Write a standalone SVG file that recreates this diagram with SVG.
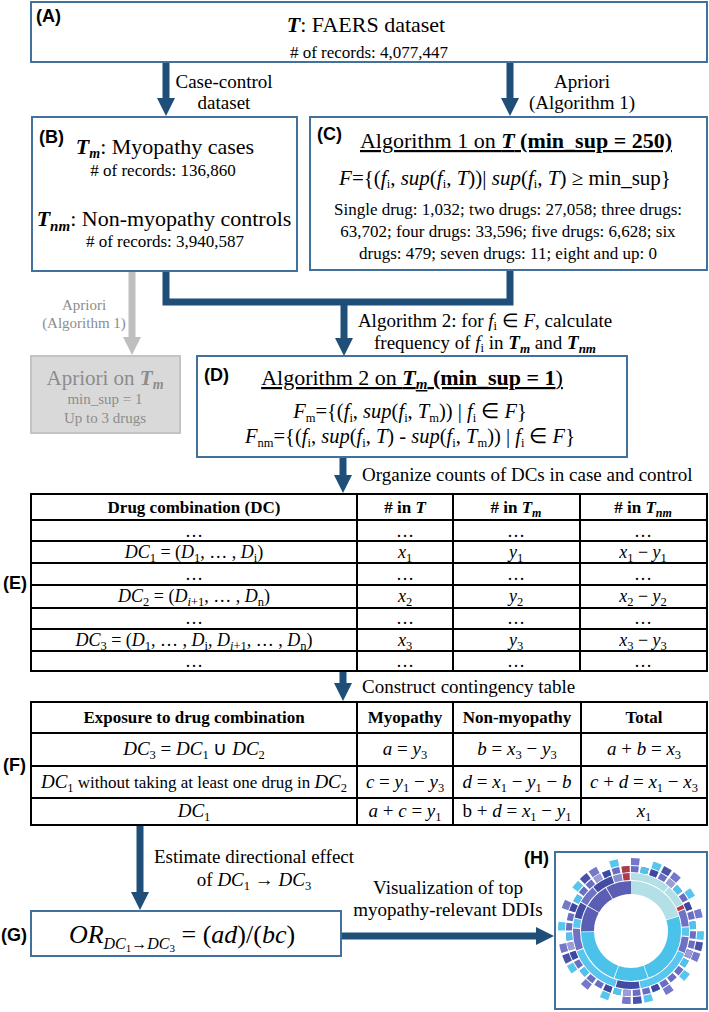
<svg xmlns="http://www.w3.org/2000/svg" width="709" height="1012" viewBox="0 0 709 1012">
<defs>
<style>
.t{font-family:"Liberation Serif","Times New Roman",serif;fill:#000}
.lab{font-family:"Liberation Sans",Arial,sans-serif;font-weight:bold;font-size:18px;fill:#000}
.i{font-style:italic}
.b{font-weight:bold}
.bi{font-weight:bold;font-style:italic}
.sb{font-size:12.5px;font-style:normal}
.mid{text-anchor:middle}
.box{fill:#fff;stroke:#41719c;stroke-width:2}
.gbox{fill:#d9d9d9;stroke:#c4c4c4;stroke-width:2}
.grid{stroke:#000;stroke-width:2;fill:none}
.c{fill:none;stroke:#1f4e79;stroke-width:7}
.g{fill:none;stroke:#bfbfbf;stroke-width:7}
.gt{fill:#8c8c8c}
</style>
<marker id="ah" markerUnits="userSpaceOnUse" markerWidth="18" markerHeight="18" viewBox="0 0 18 18" refX="1" refY="9" orient="auto"><path d="M0,0 L18,9 L0,18 Z" fill="#1f4e79"/></marker>
<marker id="ahg" markerUnits="userSpaceOnUse" markerWidth="18" markerHeight="18" viewBox="0 0 18 18" refX="1" refY="9" orient="auto"><path d="M0,0 L18,9 L0,18 Z" fill="#bfbfbf"/></marker>
</defs>
<rect width="709" height="1012" fill="#fff"/>

<g id="connectors">
<path class="c" d="M166,62 V99" marker-end="url(#ah)"/>
<path class="c" d="M510,62 V99" marker-end="url(#ah)"/>
<path class="c" d="M166,270 V302 H510 V270"/>
<path class="c" d="M344,302 V339" marker-end="url(#ah)"/>
<path class="g" d="M132,271 V338" marker-end="url(#ahg)"/>
<path class="c" d="M343,457 V476" marker-end="url(#ah)"/>
<path class="c" d="M343,671 V684" marker-end="url(#ah)"/>
<path class="c" d="M140,825 V893" marker-end="url(#ah)"/>
<path class="c" d="M341,936 H537" marker-end="url(#ah)"/>
<text class="t mid" x="224" y="88" font-size="19">Case-control</text>
<text class="t mid" x="224" y="109" font-size="19">dataset</text>
<text class="t mid" x="582" y="88" font-size="19">Apriori</text>
<text class="t mid" x="582" y="109" font-size="19">(Algorithm 1)</text>
<text class="t mid gt" x="84" y="310" font-size="15" fill="#999">Apriori</text>
<text class="t mid gt" x="84" y="328" font-size="15" fill="#999">(Algorithm 1)</text>
<text class="t mid" x="485" y="327" font-size="19">Algorithm 2: for <tspan class="i">f</tspan><tspan class="sb i" dy="3">i</tspan><tspan dy="-3"> ∈ </tspan><tspan class="i">F</tspan>, calculate</text>
<text class="t mid" x="485" y="349" font-size="19">frequency of <tspan class="i">f</tspan><tspan class="sb i" dy="3">i</tspan><tspan dy="-3"> in </tspan><tspan class="bi">T</tspan><tspan class="bi" font-size="13" dy="4">m</tspan><tspan dy="-4"> and </tspan><tspan class="bi">T</tspan><tspan class="bi" font-size="13" dy="4">nm</tspan></text>
<text class="t" x="362" y="481" font-size="19">Organize counts of DCs in case and control</text>
<text class="t" x="362" y="693" font-size="19">Construct contingency table</text>
<text class="t mid" x="254" y="863" font-size="19">Estimate directional effect</text>
<text class="t mid" x="254" y="886" font-size="19">of <tspan class="i">DC</tspan><tspan class="sb" dy="4">1</tspan><tspan dy="-4"> → </tspan><tspan class="i">DC</tspan><tspan class="sb" dy="4">3</tspan></text>
<text class="t mid" x="448" y="894" font-size="19">Visualization of top</text>
<text class="t mid" x="448" y="916" font-size="19">myopathy-relevant DDIs</text>
</g>

<g id="nodeA">
<rect class="box" x="31" y="2" width="676" height="60"/>
<text class="lab" x="36" y="22">(A)</text>
<text class="t mid" x="366" y="32" font-size="22"><tspan class="bi">T</tspan>: FAERS dataset</text>
<text class="t mid" x="369" y="58" font-size="17"># of records: 4,077,447</text>
</g>

<g id="nodeB">
<rect class="box" x="32" y="117" width="265" height="154"/>
<text class="lab" x="39" y="143">(B)</text>
<text class="t mid" x="165" y="154" font-size="22"><tspan class="bi">T</tspan><tspan class="bi" font-size="14" dy="4">m</tspan><tspan dy="-4">: Myopathy cases</tspan></text>
<text class="t mid" x="163" y="176" font-size="17"># of records: 136,860</text>
<text class="t mid" x="164" y="226" font-size="22"><tspan class="bi">T</tspan><tspan class="bi" font-size="15" dy="5">nm</tspan><tspan dy="-5">: Non-myopathy controls</tspan></text>
<text class="t mid" x="165" y="247" font-size="17"># of records: 3,940,587</text>
</g>

<g id="nodeC">
<rect class="box" x="310" y="117" width="397" height="153"/>
<text class="lab" x="317" y="140">(C)</text>
<text class="t mid" x="516" y="148" font-size="22" text-decoration="underline">Algorithm 1 on <tspan class="bi">T</tspan><tspan class="b"> (min_sup = 250)</tspan></text>
<text class="t mid" x="505" y="185" font-size="21"><tspan class="i">F</tspan>={(<tspan class="i">f</tspan><tspan class="sb i" dy="3">i</tspan><tspan dy="-3">, </tspan><tspan class="i">sup</tspan>(<tspan class="i">f</tspan><tspan class="sb i" dy="3">i</tspan><tspan dy="-3">, </tspan><tspan class="i">T</tspan>))| <tspan class="i">sup</tspan>(<tspan class="i">f</tspan><tspan class="sb i" dy="3">i</tspan><tspan dy="-3">, </tspan><tspan class="i">T</tspan>) ≥ min_sup}</text>
<text class="t mid" x="508" y="215" font-size="17">Single drug: 1,032; two drugs: 27,058; three drugs:</text>
<text class="t mid" x="508" y="237" font-size="17">63,702; four drugs: 33,596; five drugs: 6,628; six</text>
<text class="t mid" x="508" y="259" font-size="17">drugs: 479; seven drugs: 11; eight and up: 0</text>
</g>

<g id="nodeApriori">
<rect class="gbox" x="31" y="356" width="149" height="77"/>
<text class="t mid gt" x="105" y="385" font-size="21">Apriori on <tspan class="bi">T</tspan><tspan class="bi" font-size="14" dy="4">m</tspan></text>
<text class="t mid gt" x="105" y="404" font-size="15">min_sup = 1</text>
<text class="t mid gt" x="105" y="423" font-size="15">Up to 3 drugs</text>
</g>

<g id="nodeD">
<rect class="box" x="197" y="356" width="430" height="101"/>
<text class="lab" x="204" y="381">(D)</text>
<text class="t mid" x="412" y="385" font-size="22" text-decoration="underline">Algorithm 2 on <tspan class="bi">T</tspan><tspan class="bi" font-size="15" dy="4">m</tspan><tspan class="b" dy="-4"> (min_sup = 1</tspan>)</text>
<text class="t mid" x="410" y="418" font-size="20.5"><tspan class="i">F</tspan><tspan class="sb i" dy="4">m</tspan><tspan dy="-4">={(</tspan><tspan class="i">f</tspan><tspan class="sb i" dy="4">i</tspan><tspan dy="-4">, </tspan><tspan class="i">sup</tspan>(<tspan class="i">f</tspan><tspan class="sb i" dy="4">i</tspan><tspan dy="-4">, </tspan><tspan class="i">T</tspan><tspan class="sb i" dy="4">m</tspan><tspan dy="-4">)) | </tspan><tspan class="i">f</tspan><tspan class="sb i" dy="4">i</tspan><tspan dy="-4"> ∈ </tspan><tspan class="i">F</tspan>}</text>
<text class="t mid" x="410" y="443" font-size="20.5"><tspan class="i">F</tspan><tspan class="sb i" dy="4">nm</tspan><tspan dy="-4">={(</tspan><tspan class="i">f</tspan><tspan class="sb i" dy="4">i</tspan><tspan dy="-4">, </tspan><tspan class="i">sup</tspan>(<tspan class="i">f</tspan><tspan class="sb i" dy="4">i</tspan><tspan dy="-4">, </tspan><tspan class="i">T</tspan>) - <tspan class="i">sup</tspan>(<tspan class="i">f</tspan><tspan class="sb i" dy="4">i</tspan><tspan dy="-4">, </tspan><tspan class="i">T</tspan><tspan class="sb i" dy="4">m</tspan><tspan dy="-4">)) | </tspan><tspan class="i">f</tspan><tspan class="sb i" dy="4">i</tspan><tspan dy="-4"> ∈ </tspan><tspan class="i">F</tspan>}</text>
</g>

<g id="tableE">
<rect class="grid" x="31" y="494" width="676" height="177"/>
<path class="grid" d="M31,520 H707 M31,541 H707 M31,563 H707 M31,585 H707 M31,608 H707 M31,629 H707 M31,651 H707 M357,494 V671 M453,494 V671 M580,494 V671"/>
<text class="lab" x="3" y="589">(E)</text>
<g class="t b" font-size="17">
<text class="mid" x="194" y="513">Drug combination (DC)</text>
<text class="mid" x="405" y="513"># in <tspan class="bi">T</tspan></text>
<text class="mid" x="516" y="513"># in <tspan class="bi">T</tspan><tspan class="bi" font-size="12" dy="4">m</tspan></text>
<text class="mid" x="643" y="513"># in <tspan class="bi">T</tspan><tspan class="bi" font-size="12" dy="4">nm</tspan></text>
</g>
<g class="t" font-size="18">
<text class="mid" x="194" y="537">…</text><text class="mid" x="405" y="537">…</text><text class="mid" x="516" y="537">…</text><text class="mid" x="643" y="537">…</text>
<text class="mid" x="194" y="558"><tspan class="i">DC</tspan><tspan class="sb" dy="4">1</tspan><tspan dy="-4"> = (</tspan><tspan class="i">D</tspan><tspan class="sb" dy="4">1</tspan><tspan dy="-4">, … , </tspan><tspan class="i">D</tspan><tspan class="sb i" dy="4">i</tspan><tspan dy="-4">)</tspan></text>
<text class="mid" x="405" y="558"><tspan class="i">x</tspan><tspan class="sb" dy="4">1</tspan></text>
<text class="mid" x="516" y="558"><tspan class="i">y</tspan><tspan class="sb" dy="4">1</tspan></text>
<text class="mid" x="643" y="558"><tspan class="i">x</tspan><tspan class="sb" dy="4">1</tspan><tspan dy="-4"> − </tspan><tspan class="i">y</tspan><tspan class="sb" dy="4">1</tspan></text>
<text class="mid" x="194" y="580">…</text><text class="mid" x="405" y="580">…</text><text class="mid" x="516" y="580">…</text><text class="mid" x="643" y="580">…</text>
<text class="mid" x="194" y="602"><tspan class="i">DC</tspan><tspan class="sb" dy="4">2</tspan><tspan dy="-4"> = (</tspan><tspan class="i">D</tspan><tspan class="sb" dy="4"><tspan class="i">i</tspan>+1</tspan><tspan dy="-4">, … , </tspan><tspan class="i">D</tspan><tspan class="sb i" dy="4">n</tspan><tspan dy="-4">)</tspan></text>
<text class="mid" x="405" y="602"><tspan class="i">x</tspan><tspan class="sb" dy="4">2</tspan></text>
<text class="mid" x="516" y="602"><tspan class="i">y</tspan><tspan class="sb" dy="4">2</tspan></text>
<text class="mid" x="643" y="602"><tspan class="i">x</tspan><tspan class="sb" dy="4">2</tspan><tspan dy="-4"> − </tspan><tspan class="i">y</tspan><tspan class="sb" dy="4">2</tspan></text>
<text class="mid" x="194" y="624">…</text><text class="mid" x="405" y="624">…</text><text class="mid" x="516" y="624">…</text><text class="mid" x="643" y="624">…</text>
<text class="mid" x="194" y="646"><tspan class="i">DC</tspan><tspan class="sb" dy="4">3</tspan><tspan dy="-4"> = (</tspan><tspan class="i">D</tspan><tspan class="sb" dy="4">1</tspan><tspan dy="-4">, … , </tspan><tspan class="i">D</tspan><tspan class="sb i" dy="4">i</tspan><tspan dy="-4">, </tspan><tspan class="i">D</tspan><tspan class="sb" dy="4"><tspan class="i">i</tspan>+1</tspan><tspan dy="-4">, … , </tspan><tspan class="i">D</tspan><tspan class="sb i" dy="4">n</tspan><tspan dy="-4">)</tspan></text>
<text class="mid" x="405" y="646"><tspan class="i">x</tspan><tspan class="sb" dy="4">3</tspan></text>
<text class="mid" x="516" y="646"><tspan class="i">y</tspan><tspan class="sb" dy="4">3</tspan></text>
<text class="mid" x="643" y="646"><tspan class="i">x</tspan><tspan class="sb" dy="4">3</tspan><tspan dy="-4"> − </tspan><tspan class="i">y</tspan><tspan class="sb" dy="4">3</tspan></text>
<text class="mid" x="194" y="667">…</text><text class="mid" x="405" y="667">…</text><text class="mid" x="516" y="667">…</text><text class="mid" x="643" y="667">…</text>
</g>
</g>

<g id="tableF">
<rect class="grid" x="31" y="702" width="676" height="123"/>
<path class="grid" d="M31,733 H707 M31,766 H707 M31,798 H707 M357,702 V825 M453,702 V825 M581,702 V825"/>
<text class="lab" x="3" y="771">(F)</text>
<g class="t b" font-size="17">
<text class="mid" x="194" y="723">Exposure to drug combination</text>
<text class="mid" x="405" y="723">Myopathy</text>
<text class="mid" x="517" y="723">Non-myopathy</text>
<text class="mid" x="644" y="723">Total</text>
</g>
<g class="t" font-size="19">
<text class="mid" x="194" y="755"><tspan class="i">DC</tspan><tspan class="sb" dy="4">3</tspan><tspan dy="-4"> = </tspan><tspan class="i">DC</tspan><tspan class="sb" dy="4">1</tspan><tspan dy="-4"> ∪ </tspan><tspan class="i">DC</tspan><tspan class="sb" dy="4">2</tspan></text>
<text class="mid" x="405" y="755"><tspan class="i">a</tspan> = <tspan class="i">y</tspan><tspan class="sb" dy="4">3</tspan></text>
<text class="mid" x="517" y="755"><tspan class="i">b</tspan> = <tspan class="i">x</tspan><tspan class="sb" dy="4">3</tspan><tspan dy="-4"> − </tspan><tspan class="i">y</tspan><tspan class="sb" dy="4">3</tspan></text>
<text class="mid" x="644" y="755"><tspan class="i">a</tspan> + <tspan class="i">b</tspan> = <tspan class="i">x</tspan><tspan class="sb" dy="4">3</tspan></text>
<text class="mid" x="194" y="788"><tspan class="i">DC</tspan><tspan class="sb" dy="4">1</tspan><tspan dy="-4" font-size="17"> without taking at least one drug in </tspan><tspan class="i">DC</tspan><tspan class="sb" dy="4">2</tspan></text>
<text class="mid" x="405" y="788"><tspan class="i">c</tspan> = <tspan class="i">y</tspan><tspan class="sb" dy="4">1</tspan><tspan dy="-4"> − </tspan><tspan class="i">y</tspan><tspan class="sb" dy="4">3</tspan></text>
<text class="mid" x="517" y="788"><tspan class="i">d</tspan> = <tspan class="i">x</tspan><tspan class="sb" dy="4">1</tspan><tspan dy="-4"> − </tspan><tspan class="i">y</tspan><tspan class="sb" dy="4">1</tspan><tspan dy="-4"> − </tspan><tspan class="i">b</tspan></text>
<text class="mid" x="644" y="788"><tspan class="i">c</tspan> + <tspan class="i">d</tspan> = <tspan class="i">x</tspan><tspan class="sb" dy="4">1</tspan><tspan dy="-4"> − </tspan><tspan class="i">x</tspan><tspan class="sb" dy="4">3</tspan></text>
<text class="mid" x="194" y="817"><tspan class="i">DC</tspan><tspan class="sb" dy="4">1</tspan></text>
<text class="mid" x="405" y="817"><tspan class="i">a</tspan> + <tspan class="i">c</tspan> = <tspan class="i">y</tspan><tspan class="sb" dy="4">1</tspan></text>
<text class="mid" x="517" y="817">b + <tspan class="i">d</tspan> = <tspan class="i">x</tspan><tspan class="sb" dy="4">1</tspan><tspan dy="-4"> − </tspan><tspan class="i">y</tspan><tspan class="sb" dy="4">1</tspan></text>
<text class="mid" x="644" y="817"><tspan class="i">x</tspan><tspan class="sb" dy="4">1</tspan></text>
</g>
</g>

<g id="nodeG">
<rect class="box" x="31" y="911" width="310" height="45"/>
<text class="lab" x="1" y="941">(G)</text>
<text class="t mid" x="182" y="943" font-size="26"><tspan class="i">OR</tspan><tspan font-size="16" dy="6"><tspan class="i">DC</tspan><tspan font-size="11" dy="3">1</tspan><tspan dy="-3">→</tspan><tspan class="i">DC</tspan><tspan font-size="11" dy="3">3</tspan></tspan><tspan dy="-9"> = (</tspan><tspan class="i">ad</tspan>)/(<tspan class="i">bc</tspan>)</text>
</g>

<g id="nodeH">
<rect class="box" x="555" y="852" width="152" height="157"/>
<text class="lab" x="524" y="864">(H)</text>
<g transform="translate(631 931) rotate(-90)" fill="none">
<g transform="scale(0.7592)" stroke-width="17.12">
<circle r="57.2958" stroke="#b3dfe7" stroke-dasharray="72 288"/>
<circle r="57.2958" stroke="#4ac2ea" stroke-dasharray="0 73 86 1 39 1 68 92"/>
<circle r="57.2958" stroke="#5a5fb3" stroke-dasharray="0 269 30 1 29 1 29.5 0.5"/>
</g>
<g transform="scale(0.9512)" stroke-width="7.36">
<circle r="57.2958" stroke="#b3dfe7" stroke-dasharray="40 1 21 298"/>
<circle r="57.2958" stroke="#b03a48" stroke-dasharray="0 63 4 284 7 2"/>
<circle r="57.2958" stroke="#6e72c4" stroke-dasharray="0 68 17 11 16 138 22 28 18 42"/>
<circle r="57.2958" stroke="#58c6ee" stroke-dasharray="0 86 9 18 57 26 53 24 9 78"/>
<circle r="57.2958" stroke="#434ca3" stroke-dasharray="0 171 24 88 16 20 21 20"/>
<circle r="57.2958" stroke="#8a8dd2" stroke-dasharray="0 341 9 10"/>
</g>
<g transform="scale(1.0821)" stroke-width="5.545">
<circle r="57.2958" stroke="#6a6ec2" stroke-dasharray="7 2"/>
<circle r="57.2958" stroke="#4fc3ec" stroke-dasharray="0 9 7 20"/>
<circle r="57.2958" stroke="#3f489f" stroke-dasharray="0 18 7 20"/>
<circle r="57.2958" stroke="#9a9dd9" stroke-dasharray="0 36 7 29"/>
<circle r="57.2958" stroke="#b03a48" stroke-dasharray="0 351 7 2"/>
</g>
<g transform="scale(1.2130)" stroke-width="5.77">
<circle r="57.2958" stroke="#7478c8" stroke-dasharray="7 29"/>
<circle r="57.2958" stroke="#56c6ee" stroke-dasharray="0 18 7 11"/>
<circle r="57.2958" stroke="#4a52a8" stroke-dasharray="0 27 7 38"/>
</g>
</g>
</g>
</svg>
